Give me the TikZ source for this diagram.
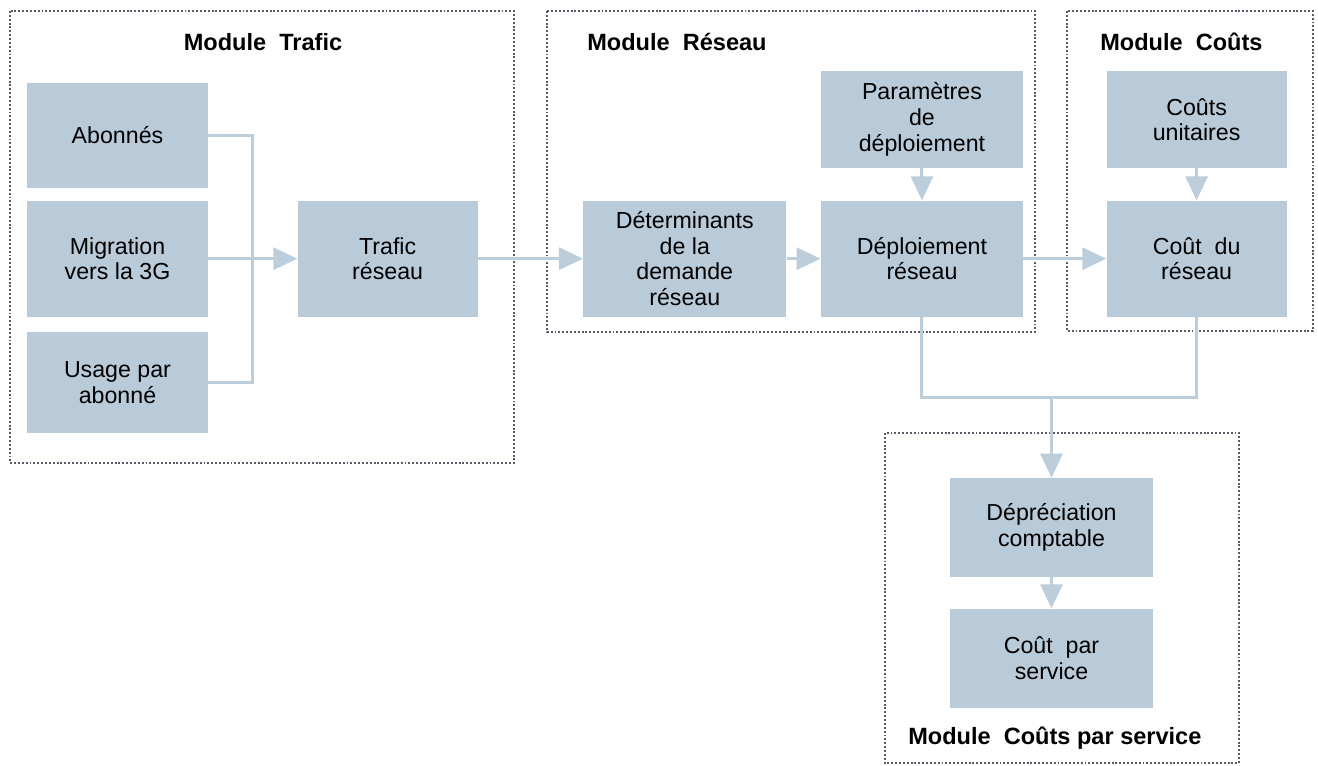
\documentclass[tikz,border=0pt]{standalone}
\usepackage{fontspec}
\setmainfont{Liberation Sans}
\usetikzlibrary{positioning,arrows.meta}
\definecolor{boxblue}{RGB}{185,203,216}
\definecolor{lineblue}{RGB}{188,206,220}
\definecolor{framegray}{RGB}{90,90,104}

\begin{document}
\begin{tikzpicture}[x=0.02cm, y=-0.02cm,
    main/.style = {fill=boxblue, align=center, inner sep=0pt, minimum width=3.6cm, font=\fontsize{13.2pt}{14.6pt}\selectfont},
    title/.style = {font=\fontsize{13.4pt}{15pt}\selectfont\bfseries, inner sep=0pt},
    frame/.style = {draw=framegray, line width=1.1pt, dash pattern=on 1.1pt off 1.1pt},
    link/.style = {draw=lineblue, line width=0.06cm},
    arr/.style = {link, -{Triangle[length=0.48cm, width=0.44cm]}}]
    \useasboundingbox (0,0) rectangle (1318,765);
    \draw[frame] (10,11) rectangle (514,463);
    \draw[frame] (547,11) rectangle (1035,332);
    \draw[frame] (1067,11) rectangle (1313,331);
    \draw[frame] (885,433) rectangle (1239,763);
    \node[title] (ttrafic) at (263,42) {Module\ \ Trafic};
    \node[title, anchor=west] (treseau) at (587,42) {Module\ \ Réseau};
    \node[title, anchor=west] (tcouts) at (1100,42) {Module\ \ Coûts};
    \node[title, anchor=west] (tservice) at (908,738) {Module\ \ Coûts par service};
    \node[main, minimum width=3.62cm, minimum height=2.1cm] (abon) at (117.5,135.5) {Abonnés};
    \node[main, minimum width=3.62cm, minimum height=2.32cm] (migr) [below=0.24cm of abon] {Migration\\vers la 3G};
    \node[main, minimum width=3.62cm, minimum height=2.02cm] (usage) [below=0.3cm of migr] {Usage par\\abonné};
    \node[main, minimum height=2.32cm] (trafic) [right=1.78cm of migr] {Trafic\\réseau};
    \node[main, minimum width=4.06cm, minimum height=2.32cm] (determ) [right=2.1cm of trafic] {Déterminants\\de la\\demande\\réseau};
    \node[main, minimum width=4.04cm, minimum height=2.32cm] (deploi) [right=0.68cm of determ] {Déploiement\\réseau};
    \node[main, minimum width=4.04cm, minimum height=1.94cm] (param) [above=0.64cm of deploi] {Paramètres\\de\\déploiement};
    \node[main, minimum height=2.32cm] (cout) [right=1.66cm of deploi] {Coût\ \ du\\réseau};
    \node[main, minimum height=1.94cm] (unit) [above=0.64cm of cout] {Coûts\\unitaires};
    \node[main, minimum width=4.06cm, minimum height=1.98cm] (deprec) at (1051.5,527.5) {Dépréciation\\comptable};
    \node[main, minimum width=4.06cm, minimum height=1.98cm] (service) [below=0.62cm of deprec] {Coût\ \ par\\service};
    \coordinate (tjoin) at (252,258);
    \coordinate (cjoin) at (1051.5,397);
    \draw[link] (abon.east) -| (tjoin) |- (usage.east);
    \draw[arr] (migr) -- (trafic);
    \draw[arr] (trafic) -- (determ);
    \draw[arr] (determ) -- (deploi);
    \draw[arr] (param) -- (deploi);
    \draw[arr] (deploi) -- (cout);
    \draw[arr] (unit) -- (cout);
    \draw[link] (deploi.south) |- (cjoin) -| (cout.south);
    \draw[arr] (cjoin) -- (deprec);
    \draw[arr] (deprec) -- (service);
\end{tikzpicture}
\end{document}
